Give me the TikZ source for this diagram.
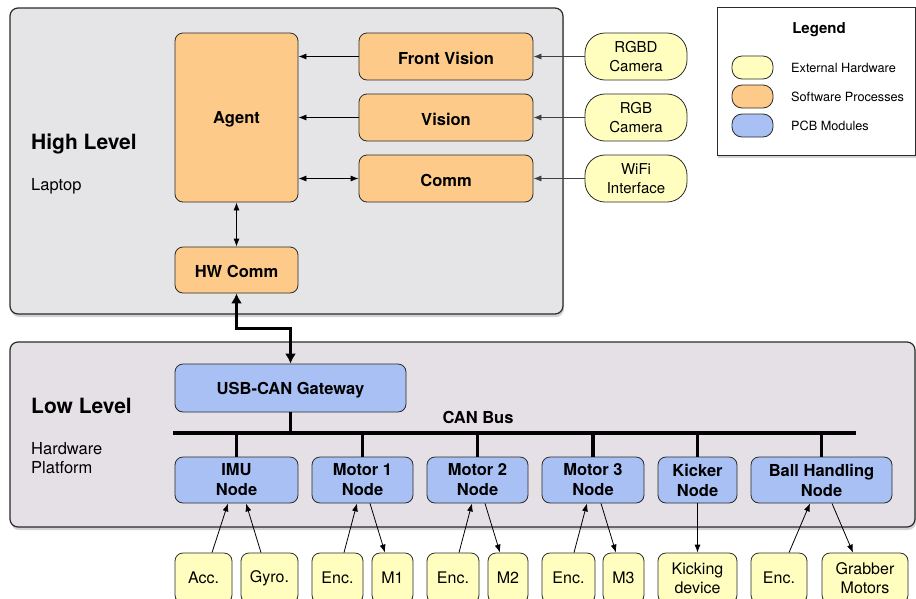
\documentclass[tikz,border=0pt]{standalone}
\usepackage{fontspec}
\setmainfont{TeX Gyre Heros}
\usetikzlibrary{arrows.meta,shadows,calc}
\definecolor{swfill}{HTML}{FDCA8A}
\definecolor{hwfill}{HTML}{FFFEBF}
\definecolor{pcbfill}{HTML}{A8C0F4}
\definecolor{hipanel}{HTML}{E5E5E8}
\definecolor{lopanel}{HTML}{E4E0E5}
\definecolor{edge}{HTML}{2A2A2A}
\tikzset{
  panel/.style={draw=edge, line width=1.2pt, rounded corners=8pt,
    drop shadow={shadow xshift=1pt, shadow yshift=-3pt, opacity=0.35}},
  box/.style={draw=edge, line width=0.8pt, rounded corners=8pt, inner sep=0pt,
    align=center},
  % bold labels sit a little below the middle of their boxes
  lowtext/.style={execute at begin node={\rule{0pt}{16pt}}},
  swbox/.style={box, lowtext, fill=swfill, font=\fontsize{16.5}{20}\selectfont\bfseries},
  pcbbox/.style={box, lowtext, fill=pcbfill, font=\fontsize{16.5}{20}\selectfont\bfseries},
  hwbox/.style={box, fill=hwfill, font=\fontsize{16}{19}\selectfont},
  cambox/.style={box, fill=hwfill, rounded corners=20pt, font=\fontsize{15}{19}\selectfont},
  swatch/.style={draw=edge, line width=0.8pt, rounded corners=10pt,
    minimum width=41pt, minimum height=23pt, inner sep=0pt},
  legtext/.style={anchor=west, inner sep=0pt, font=\fontsize{12.7}{15}\selectfont},
  title/.style={anchor=west, inner sep=0pt, font=\fontsize{21}{24}\selectfont\bfseries},
  subtitle/.style={anchor=west, inner sep=0pt, align=left, font=\fontsize{16.5}{19.5}\selectfont},
  link/.style={draw=black, line width=0.8pt, -{Latex[length=8pt,width=6pt]}},
  blink/.style={draw=black, line width=0.8pt, {Latex[length=8pt,width=6pt]}-{Latex[length=8pt,width=6pt]}},
  usb/.style={draw=black, line width=3.5pt,
    {Latex[length=10pt,width=11pt]}-{Latex[length=10pt,width=11pt]}},
  bus/.style={draw=black, line width=4pt},
}
\begin{document}
\begin{tikzpicture}[x=1pt, y=-1pt]
\useasboundingbox (0,0) rectangle (916,598);

% ---------- panels ----------
\draw[panel, fill=hipanel] (10,8) rectangle (563,314);
\draw[panel, fill=lopanel] (10,342) rectangle (915,527);

\node[title] (hl) at (31,144) {High Level};
\node[subtitle] (lap) at (31,186) {Laptop};
\node[title] (ll) at (31,405.5) {Low Level};
\node[subtitle] (hwp) at (31,458) {Hardware\\Platform};

% ---------- high level software ----------
\node[swbox, minimum width=123pt, minimum height=169pt] (agent) at (236.5,117.5) {Agent};
\node[swbox, minimum width=123pt, minimum height=46pt] (hwcomm) at (236.5,270) {HW Comm};
\node[swbox, minimum width=174pt, minimum height=47pt] (fv) at (446,56.5) {Front Vision};
\node[swbox, minimum width=174pt, minimum height=47pt] (vis) at (446,117.5) {Vision};
\node[swbox, minimum width=174pt, minimum height=47pt] (comm) at (446,178.5) {Comm};

\node[cambox, minimum width=102pt, minimum height=47pt] (rgbd) at (636,56.5) {RGBD\\Camera};
\node[cambox, minimum width=102pt, minimum height=47pt] (rgb) at (636,117.5) {RGB\\Camera};
\node[cambox, minimum width=102pt, minimum height=47pt] (wifi) at (636,178.5) {WiFi\\Interface};

\draw[link] (fv.west) -- (fv.west -| agent.east);
\draw[link] (vis.west) -- (vis.west -| agent.east);
\draw[blink] (comm.west) -- (comm.west -| agent.east);
\draw[link, draw=black!75] (rgbd.west) -- (fv.east);
\draw[link, draw=black!75] (rgb.west) -- (vis.east);
\draw[link, draw=black!75] (wifi.west) -- (comm.east);
\draw[blink] (agent.south) -- (hwcomm.north);

% ---------- legend ----------
\node[draw=edge, line width=0.9pt, fill=white, minimum width=198pt, minimum height=148pt,
  drop shadow={shadow xshift=1pt, shadow yshift=-3pt, opacity=0.35}] (legend) at (816,81) {};
\node[inner sep=0pt, font=\fontsize{15}{18}\selectfont\bfseries] (legtitle) at (819,29.5) {Legend};
\node[swatch, fill=hwfill] (s1) at (752.5,67.5) {};
\node[swatch, fill=swfill] (s2) at (752.5,96.5) {};
\node[swatch, fill=pcbfill] (s3) at (752.5,125.5) {};
\node[legtext] (l1) at (791,67.5) {External Hardware};
\node[legtext] (l2) at (791,96.5) {Software Processes};
\node[legtext] (l3) at (791,125.5) {PCB Modules};

% ---------- low level ----------
\node[pcbbox, minimum width=231pt, minimum height=48pt] (gw) at (290.5,388) {USB-CAN Gateway};
\draw[usb] (hwcomm.south) |- ($(hwcomm.south)!0.5!(gw.north)$) -| (gw.north);

\coordinate (busL) at (173,433);
\coordinate (busR) at (856,433);
\draw[bus] (busL) -- (busR);
\node[inner sep=0pt, font=\fontsize{16.5}{20}\selectfont\bfseries] (canlabel) at (478,417) {CAN Bus};

\node[pcbbox, minimum width=123pt, minimum height=46pt] (imu) at (236.5,480) {IMU\\Node};
\node[pcbbox, minimum width=101pt, minimum height=46pt] (m1n) at (362.5,480) {Motor 1\\Node};
\node[pcbbox, minimum width=101pt, minimum height=46pt] (m2n) at (477.5,480) {Motor 2\\Node};
\node[pcbbox, minimum width=102pt, minimum height=46pt] (m3n) at (593,480) {Motor 3\\Node};
\node[pcbbox, minimum width=79pt, minimum height=46pt] (kick) at (697.5,480) {Kicker\\Node};
\node[pcbbox, minimum width=141pt, minimum height=46pt] (ball) at (821.5,480) {Ball Handling\\Node};

\draw[bus, line width=3.5pt] (gw.south) -- (gw.south |- busL);
\foreach \n in {imu,m1n,m2n,m3n,kick,ball}
  \draw[bus, line width=3.5pt] (\n.north) -- (\n.north |- busL);

% ---------- sensors and actuators ----------
\node[hwbox, minimum width=57pt, minimum height=50pt] (acc) at (203.5,578) {Acc.};
\node[hwbox, minimum width=57pt, minimum height=50pt] (gyro) at (269.5,578) {Gyro.};
\node[hwbox, minimum width=51pt, minimum height=50pt] (enc1) at (337.5,578) {Enc.};
\node[hwbox, minimum width=41pt, minimum height=50pt] (mo1) at (392.5,578) {M1};
\node[hwbox, minimum width=52pt, minimum height=50pt] (enc2) at (453,578) {Enc.};
\node[hwbox, minimum width=40pt, minimum height=50pt] (mo2) at (508,578) {M2};
\node[hwbox, minimum width=53pt, minimum height=50pt] (enc3) at (568.5,578) {Enc.};
\node[hwbox, minimum width=41pt, minimum height=50pt] (mo3) at (623.5,578) {M3};
\node[hwbox, minimum width=79pt, minimum height=50pt] (kd) at (697.5,578) {Kicking\\device};
\node[hwbox, minimum width=56pt, minimum height=50pt] (enc4) at (779,578) {Enc.};
\node[hwbox, minimum width=86pt, minimum height=50pt] (grab) at (865,578) {Grabber\\Motors};

\draw[link] ([xshift=8.5pt]acc.north) -- ([xshift=-8.5pt]imu.south);
\draw[link] ([xshift=-8.5pt]gyro.north) -- ([xshift=9.5pt]imu.south);
\draw[link] ([xshift=6.5pt]enc1.north) -- ([xshift=-5.5pt]m1n.south);
\draw[link] ([xshift=7.5pt]m1n.south) -- ([xshift=-7.5pt]mo1.north);
\draw[link] ([xshift=6pt]enc2.north) -- ([xshift=-5.5pt]m2n.south);
\draw[link] ([xshift=7.5pt]m2n.south) -- ([xshift=-8pt]mo2.north);
\draw[link] ([xshift=5.5pt]enc3.north) -- ([xshift=-6pt]m3n.south);
\draw[link] ([xshift=8pt]m3n.south) -- ([xshift=-7.5pt]mo3.north);
\draw[link] (kick.south) -- (kd.north);
\draw[link] ([xshift=10pt]enc4.north) -- ([xshift=-11.5pt]ball.south);
\draw[link] ([xshift=10.5pt]ball.south) -- ([xshift=-12pt]grab.north);
\end{tikzpicture}
\end{document}
